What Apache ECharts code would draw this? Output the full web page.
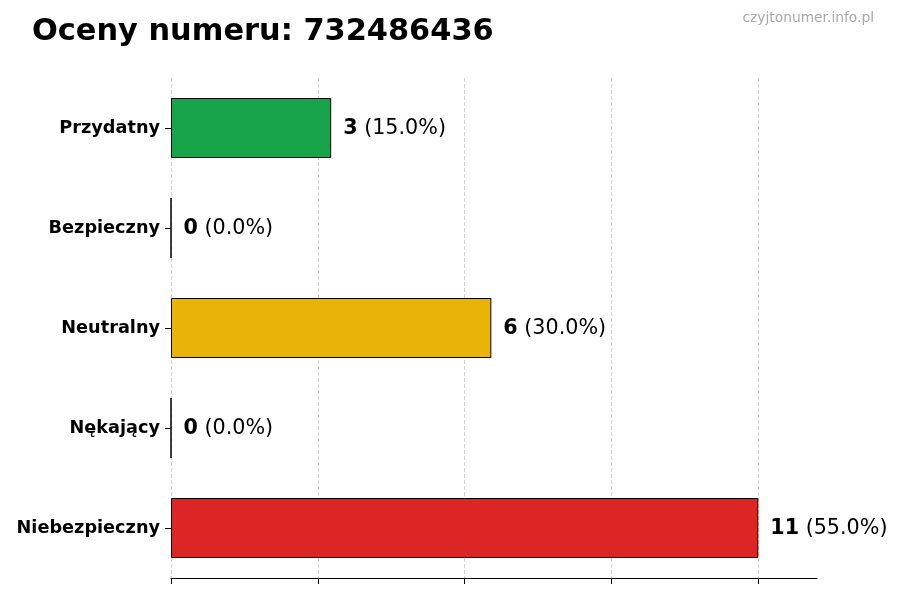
<!DOCTYPE html>
<html>
<head>
<meta charset="utf-8">
<script src="https://cdn.jsdelivr.net/npm/echarts@6/dist/echarts.min.js"></script>
<style>html,body{margin:0;padding:0;background:#fff}#c{width:900px;height:600px}</style>
</head>
<body>
<div id="c"></div>
<script>
const categories = ['Przydatny', 'Bezpieczny', 'Neutralny', 'Nękający', 'Niebezpieczny'];
const values = [3, 0, 6, 0, 11];
const percents = ['15.0%', '0.0%', '30.0%', '0.0%', '55.0%'];
const colors = ['#16a34a', '#16a34a', '#eab308', '#dc2626', '#dc2626'];
const xTicks = [0, 2.75, 5.5, 8.25, 11];
const titleText = 'Oceny numeru: 732486436';
const watermark = 'czyjtonumer.info.pl';

const chart = echarts.init(document.getElementById('c'));
const FONT = '"DejaVu Sans", sans-serif';
chart.setOption({
  animation: false,
  textStyle: { fontFamily: FONT },
  title: [
    { text: titleText, left: 27, top: 12, textStyle: { fontFamily: FONT, fontSize: 30.4, fontWeight: 'bold', color: '#000' } },
    { text: watermark, right: 21, top: 6, textStyle: { fontFamily: FONT, fontSize: 13.8, fontWeight: 'normal', color: '#aaaaaa' } }
  ],
  grid: { left: 171, right: 83, top: 78, height: 500 },
  xAxis: {
    type: 'value', min: 0, max: 12.1, interval: 2.75,
    axisLabel: { show: false },
    axisLine: { show: true, lineStyle: { color: '#000', width: 1 } },
    axisTick: { show: true, length: 6, customValues: xTicks, lineStyle: { color: '#000' } },
    splitLine: { show: true, lineStyle: { type: 'dashed', color: '#d0d0d0', width: 1 } }
  },
  yAxis: {
    type: 'category', inverse: true, data: categories,
    axisLine: { show: false },
    axisTick: { show: true, length: 6, alignWithLabel: true, lineStyle: { color: '#000' } },
    axisLabel: { fontFamily: FONT, fontSize: 17.7, fontWeight: 'bold', color: '#000', margin: 11, padding: [3, 0, 0, 0] }
  },
  series: [{
    type: 'bar',
    barWidth: 60,
    data: values.map((v, i) => ({ value: v, itemStyle: { color: colors[i] } })),
    itemStyle: { borderColor: '#000', borderWidth: 1 },
    label: {
      show: true, position: 'right', distance: 12,
      formatter: p => '{b|' + values[p.dataIndex] + '} (' + percents[p.dataIndex] + ')',
      fontFamily: FONT, fontSize: 20.7, color: '#000', padding: [2, 0, 0, 0],
      rich: { b: { fontFamily: FONT, fontSize: 20.7, fontWeight: 'bold', color: '#000' } }
    }
  }]
});
</script>
</body>
</html>
